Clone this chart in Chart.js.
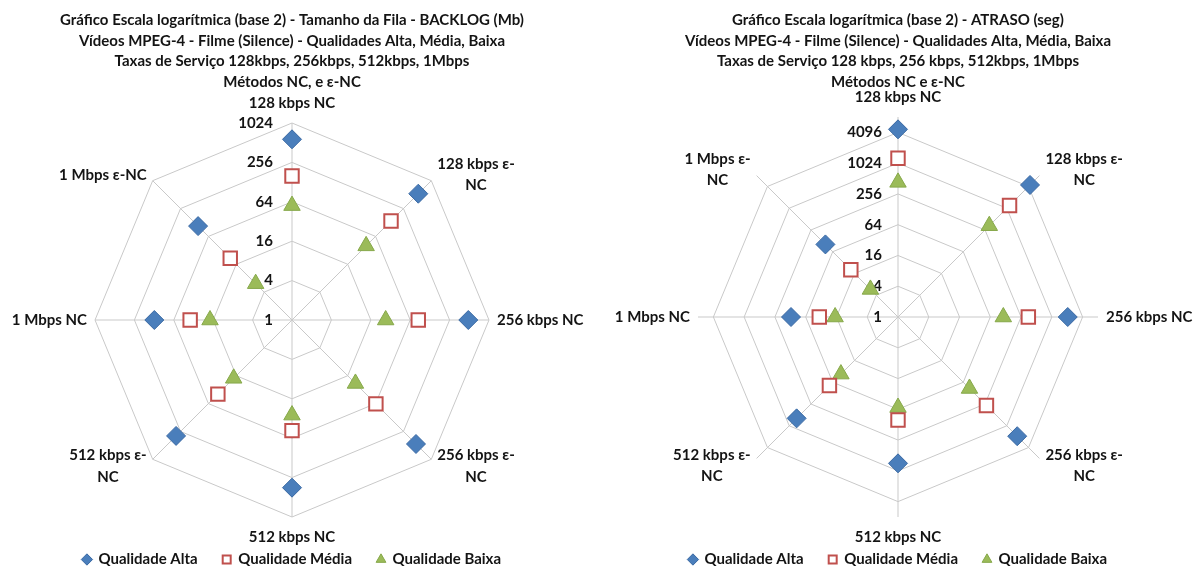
<!DOCTYPE html>
<html>
<head>
<meta charset="utf-8">
<script src="https://cdn.jsdelivr.net/npm/chart.js@4.4.1/dist/chart.umd.min.js"></script>
<style>
  html, body { margin: 0; padding: 0; background: #ffffff; }
  #wrap { position: relative; width: 1194px; height: 567px; overflow: hidden; }
  .panel { position: absolute; top: 0; width: 597px; height: 567px; }
  #p1 { left: 0; }
  #p2 { left: 597px; }
</style>
</head>
<body>
<div id="wrap">
  <div class="panel" id="p1"><canvas id="backlog" width="597" height="567"></canvas></div>
  <div class="panel" id="p2"><canvas id="atraso" width="597" height="567"></canvas></div>
</div>
<script>
// Categories (service rate + method), clockwise from the top
const categoriasBacklog = [
  '128 kbps NC', ['128 kbps ε-', 'NC'], '256 kbps NC', ['256 kbps ε-', 'NC'],
  '512 kbps NC', ['512 kbps ε-', 'NC'], '1 Mbps NC', '1 Mbps ε-NC'
];
const categoriasAtraso = [
  '128 kbps NC', ['128 kbps ε-', 'NC'], '256 kbps NC', ['256 kbps ε-', 'NC'],
  '512 kbps NC', ['512 kbps ε-', 'NC'], '1 Mbps NC', ['1 Mbps ε-', 'NC']
];

// Queue size - BACKLOG (Mb)
const backlogAlta  = [577, 536, 494, 478, 365, 320, 127, 107];
const backlogMedia = [159, 138, 85, 65, 49, 40, 36, 21.6];
const backlogBaixa = [56, 40, 27, 23.5, 28.4, 18.2, 17.9, 6.1];

// Delay - ATRASO (seg)
const atrasoAlta  = [4700, 4500, 2095, 1990, 730, 638, 124, 102];
const atrasoMedia = [1278, 1220, 355, 280, 104, 79, 34.7, 20.2];
const atrasoBaixa = [431, 336, 115, 95, 59, 38, 17, 5.8];

// Radial axis exponents (log base 2)
const backlogMaxExp = 10;   // 1024
const atrasoMaxExp = 12;    // 4096
const expStep = 2;

const serieNomes = ['Qualidade Alta', 'Qualidade Média', 'Qualidade Baixa'];

const tituloBacklog = [
  'Gráfico Escala logarítmica (base 2) - Tamanho da Fila - BACKLOG (Mb)',
  'Vídeos MPEG-4 - Filme (Silence) - Qualidades Alta, Média, Baixa',
  'Taxas de Serviço 128kbps, 256kbps, 512kbps, 1Mbps',
  'Métodos NC, e ε-NC'
];
const tituloAtraso = [
  'Gráfico Escala logarítmica (base 2) - ATRASO (seg)',
  'Vídeos MPEG-4 - Filme (Silence) - Qualidades Alta, Média, Baixa',
  'Taxas de Serviço 128 kbps, 256 kbps, 512kbps, 1Mbps',
  'Métodos NC e ε-NC'
];

const FAMILY = "Lato, 'Open Sans', 'DejaVu Sans', sans-serif";
const TEXT = '#141414';
const GRID = '#c9c9c9';

Chart.defaults.font.family = FAMILY;
Chart.defaults.color = TEXT;

// Draws the power-of-two tick values beside the vertical axis and the
// category names around the outer ring.
const axisText = {
  id: 'axisText',
  beforeDatasetsDraw(chart, args, opts) {
    const s = chart.scales.r;
    const ctx = chart.ctx;
    ctx.save();
    ctx.fillStyle = TEXT;
    ctx.font = 'bold 15px ' + FAMILY;
    ctx.textBaseline = 'middle';

    ctx.textAlign = 'right';
    s.ticks.forEach(t => {
      const d = s.getDistanceFromCenterForValue(t.value);
      ctx.fillText(String(Math.pow(2, t.value)), s.xCenter - opts.tickGap, s.yCenter - d);
    });

    const R = s.drawingArea;
    ctx.textAlign = 'center';
    chart.data.labels.forEach((lab, i) => {
      const lines = Array.isArray(lab) ? lab : [lab];
      const v = s.getPointPosition(i, R);
      const dx = v.x - s.xCenter;
      const dy = v.y - s.yCenter;
      const bw = Math.max(...lines.map(l => ctx.measureText(l).width));
      let cx, cy;
      if (Math.abs(dx) < 1) {
        const p = s.getPointPosition(i, R + opts.axialGap);
        cx = p.x; cy = p.y;
      } else if (Math.abs(dy) < 1) {
        const p = s.getPointPosition(i, R + opts.sideGap);
        cx = dx > 0 ? p.x + bw / 2 : p.x - bw / 2;
        cy = p.y;
      } else {
        cx = dx > 0 ? v.x + opts.diagGap + bw / 2 : v.x - opts.diagGap - bw / 2;
        cy = v.y + (dy < 0 ? -6 : 7);
      }
      lines.forEach((l, k) => {
        ctx.fillText(l, cx, cy + (k - (lines.length - 1) / 2) * 21.5);
      });
    });
    ctx.restore();
  }
};

function series(alta, media, baixa) {
  const common = { borderWidth: 0, borderColor: 'rgba(0,0,0,0)', backgroundColor: 'rgba(0,0,0,0)', fill: false, showLine: false, pointRadius: 9.5, pointHoverRadius: 9.5 };
  return [
    Object.assign({}, common, {
      label: serieNomes[0], data: alta.map(Math.log2), pointStyle: 'rectRot',
      pointBackgroundColor: '#4A7EBB', pointBorderColor: '#3A69A3', pointBorderWidth: 1
    }),
    Object.assign({}, common, {
      label: serieNomes[1], data: media.map(Math.log2), pointStyle: 'rect',
      pointBackgroundColor: '#ffffff', pointBorderColor: '#C0504D', pointBorderWidth: 2
    }),
    Object.assign({}, common, {
      label: serieNomes[2], data: baixa.map(Math.log2), pointStyle: 'triangle',
      pointBackgroundColor: '#9BBB59', pointBorderColor: '#86A84A', pointBorderWidth: 1
    })
  ];
}

function radarOptions(title, maxScale, padding, titleBottom, tickGap) {
  return {
    responsive: false,
    animation: false,
    events: [],
    layout: { padding: padding },
    scales: {
      r: {
        min: 0,
        max: maxScale,
        ticks: { display: false, stepSize: expStep, includeBounds: false },
        grid: { color: GRID, lineWidth: 1 },
        angleLines: { color: GRID, lineWidth: 1 },
        pointLabels: { display: false }
      }
    },
    plugins: {
      title: {
        display: true, text: title, color: TEXT,
        font: { size: 15, weight: 'bold', lineHeight: '20.5px' },
        padding: { top: 10, bottom: titleBottom }
      },
      legend: {
        position: 'bottom',
        title: { display: true, text: '', font: { size: 1, lineHeight: '0px' }, padding: { top: 10, bottom: 0 } },
        labels: {
          usePointStyle: true, boxWidth: 8, boxHeight: 8, padding: 25, color: TEXT,
          font: { size: 15, weight: 'bold' }
        }
      },
      tooltip: { enabled: false },
      axisText: { tickGap: tickGap, axialGap: 20, sideGap: 8, diagGap: 6 }
    }
  };
}

new Chart(document.getElementById('backlog'), {
  type: 'radar',
  data: { labels: categoriasBacklog, datasets: series(backlogAlta, backlogMedia, backlogBaixa) },
  options: radarOptions(tituloBacklog, backlogMaxExp, { top: 0, bottom: -10, left: 0, right: 13 }, 31, 19),
  plugins: [axisText]
});

// the delay chart's spokes run a little past its outermost ring
new Chart(document.getElementById('atraso'), {
  type: 'radar',
  data: { labels: categoriasAtraso, datasets: series(atrasoAlta, atrasoMedia, atrasoBaixa) },
  options: radarOptions(tituloAtraso, atrasoMaxExp + 1, { top: 0, bottom: -10, left: 5, right: 0 }, 25, 16),
  plugins: [axisText]
});
</script>
</body>
</html>
